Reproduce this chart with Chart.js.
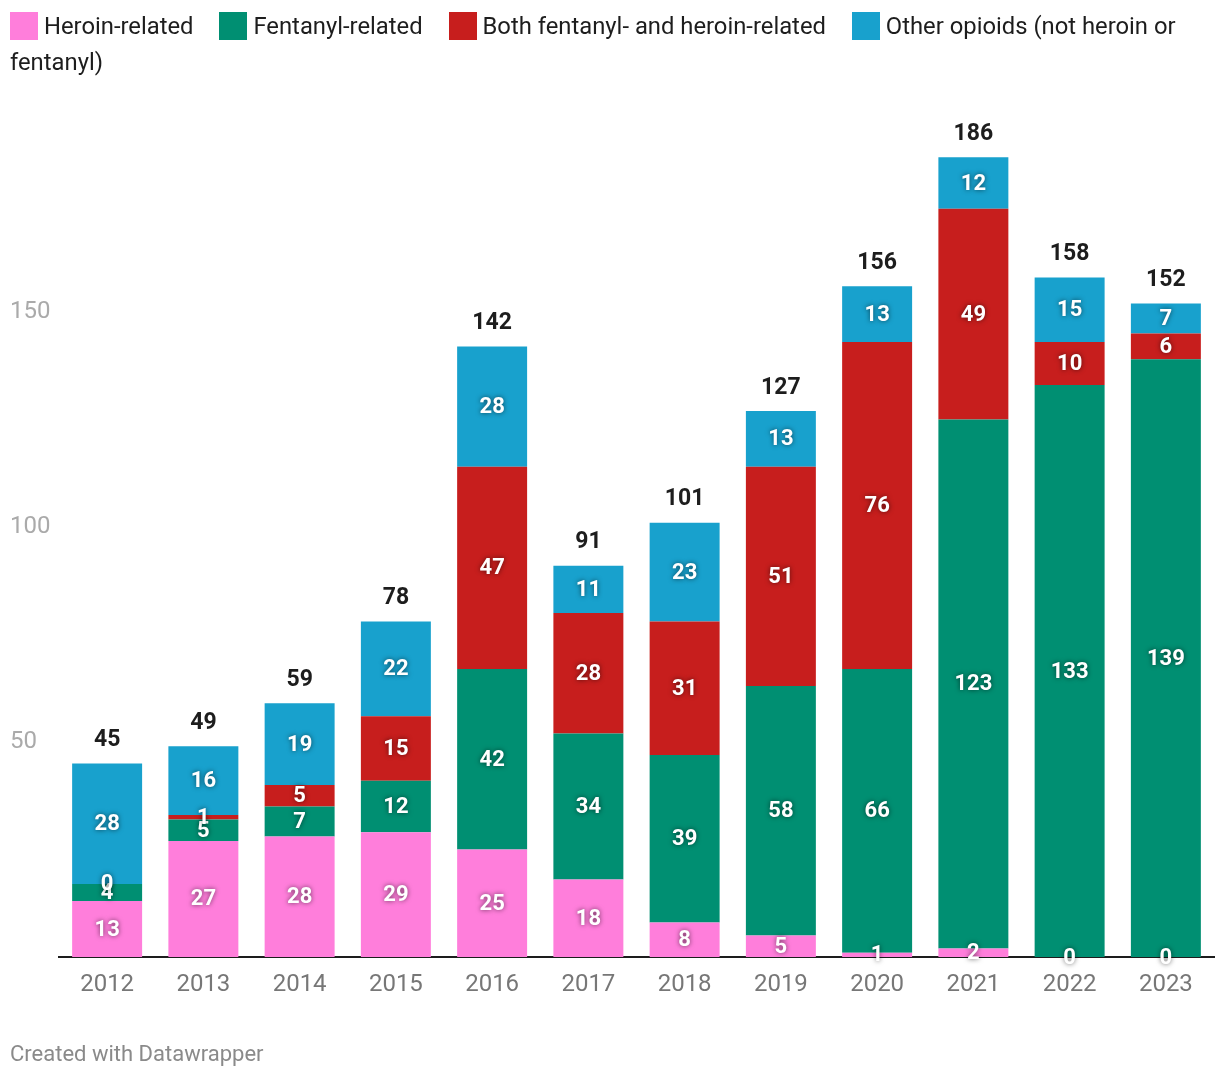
<!DOCTYPE html>
<html>
<head>
<meta charset="utf-8">
<script src="https://cdn.jsdelivr.net/npm/chart.js@4"></script>
<style>
  body { margin: 0; background: #fff; font-family: Roboto, sans-serif; }
  #wrap { position: relative; width: 1220px; height: 1080px; }
  #legend {
    position: absolute; left: 10px; top: 8px; width: 1200px;
    font-size: 23.8px; line-height: 36px; color: #1d1d1d;
  }
  #legend .item { margin-right: 20px; }
  #legend .sw {
    display: inline-block; width: 28px; height: 28px;
    vertical-align: -6px; margin-right: 6px;
  }
  #footer {
    position: absolute; left: 10px; top: 1041px;
    font-size: 22px; color: #8a8a8a;
  }
  canvas { position: absolute; left: 0; top: 0; }
</style>
</head>
<body>
<div id="wrap">
  <canvas id="chart" width="1220" height="1080"></canvas>
  <div id="legend"></div>
  <div id="footer">Created with Datawrapper</div>
</div>
<script>
// Data
const years = ['2012', '2013', '2014', '2015', '2016', '2017', '2018', '2019', '2020', '2021', '2022', '2023'];
const heroin = [13, 27, 28, 29, 25, 18, 8, 5, 1, 2, 0, 0];
const fentanyl = [4, 5, 7, 12, 42, 34, 39, 58, 66, 123, 133, 139];
const both = [0, 1, 5, 15, 47, 28, 31, 51, 76, 49, 10, 6];
const other = [28, 16, 19, 22, 28, 11, 23, 13, 13, 12, 15, 7];
const yTicks = [50, 100, 150];

const seriesNames = ['Heroin-related', 'Fentanyl-related', 'Both fentanyl- and heroin-related', 'Other opioids (not heroin or fentanyl)'];
const seriesColors = ['#ff7edb', '#008f72', '#c71e1d', '#18a1cd'];

// build legend as html so it wraps like the original
const legendEl = document.getElementById('legend');
seriesNames.forEach((name, i) => {
    const item = document.createElement('span');
    item.className = 'item';
    item.innerHTML = '<span class="sw" style="background:' + seriesColors[i] + '"></span>' + name;
    legendEl.appendChild(item);
    legendEl.appendChild(document.createTextNode(' '));
});

// labels inside segments and totals on top
const labelPlugin = {
    id: 'barLabels',
    afterDatasetsDraw(chart) {
        const ctx = chart.ctx;
        ctx.save();
        ctx.textAlign = 'center';
        ctx.textBaseline = 'middle';
        ctx.font = 'bold 22px Roboto';
        chart.data.datasets.forEach((ds, di) => {
            const meta = chart.getDatasetMeta(di);
            meta.data.forEach((bar, i) => {
                const y = (bar.y + bar.base) / 2;
                ctx.shadowColor = 'rgba(0,0,0,0.6)';
                ctx.shadowBlur = 5;
                ctx.fillStyle = '#fff';
                ctx.fillText(String(ds.data[i]), bar.x, y + 1);
            });
        });
        ctx.shadowBlur = 0;
        ctx.shadowColor = 'transparent';
        ctx.fillStyle = '#1d1d1d';
        ctx.font = 'bold 23px Roboto';
        const yScale = chart.scales.y;
        const lastMeta = chart.getDatasetMeta(chart.data.datasets.length - 1);
        years.forEach((yr, i) => {
            const total = heroin[i] + fentanyl[i] + both[i] + other[i];
            const x = lastMeta.data[i].x;
            ctx.fillText(String(total), x, yScale.getPixelForValue(total) - 23);
        });
        ctx.restore();
    }
};

const ctx = document.getElementById('chart').getContext('2d');
new Chart(ctx, {
    type: 'bar',
    data: {
        labels: years,
        datasets: [heroin, fentanyl, both, other].map((vals, i) => ({
            label: seriesNames[i],
            data: vals,
            backgroundColor: seriesColors[i],
            borderWidth: 0,
            categoryPercentage: 1,
            barPercentage: 0.727
        }))
    },
    options: {
        responsive: false,
        animation: false,
        layout: { padding: { left: 10, right: 6, top: 97, bottom: 0 } },
        plugins: {
            legend: { display: false },
            tooltip: { enabled: false }
        },
        scales: {
            x: {
                stacked: true,
                grid: { display: false },
                border: { display: true, color: '#1d1d1d', width: 2 },
                ticks: { color: '#777', font: { family: 'Roboto', size: 24 }, padding: 6 },
                afterFit(scale) { scale.height = 123; }
            },
            y: {
                stacked: true,
                min: 0,
                max: 200,
                grid: { display: false },
                border: { display: false },
                afterBuildTicks(scale) { scale.ticks = yTicks.map(v => ({ value: v })); },
                afterFit(scale) { scale.width = 49; },
                ticks: {
                    color: '#aaa',
                    crossAlign: 'far',
                    font: { family: 'Roboto', size: 24 },
                    padding: 0
                }
            }
        }
    },
    plugins: [labelPlugin]
});
</script>
</body>
</html>
